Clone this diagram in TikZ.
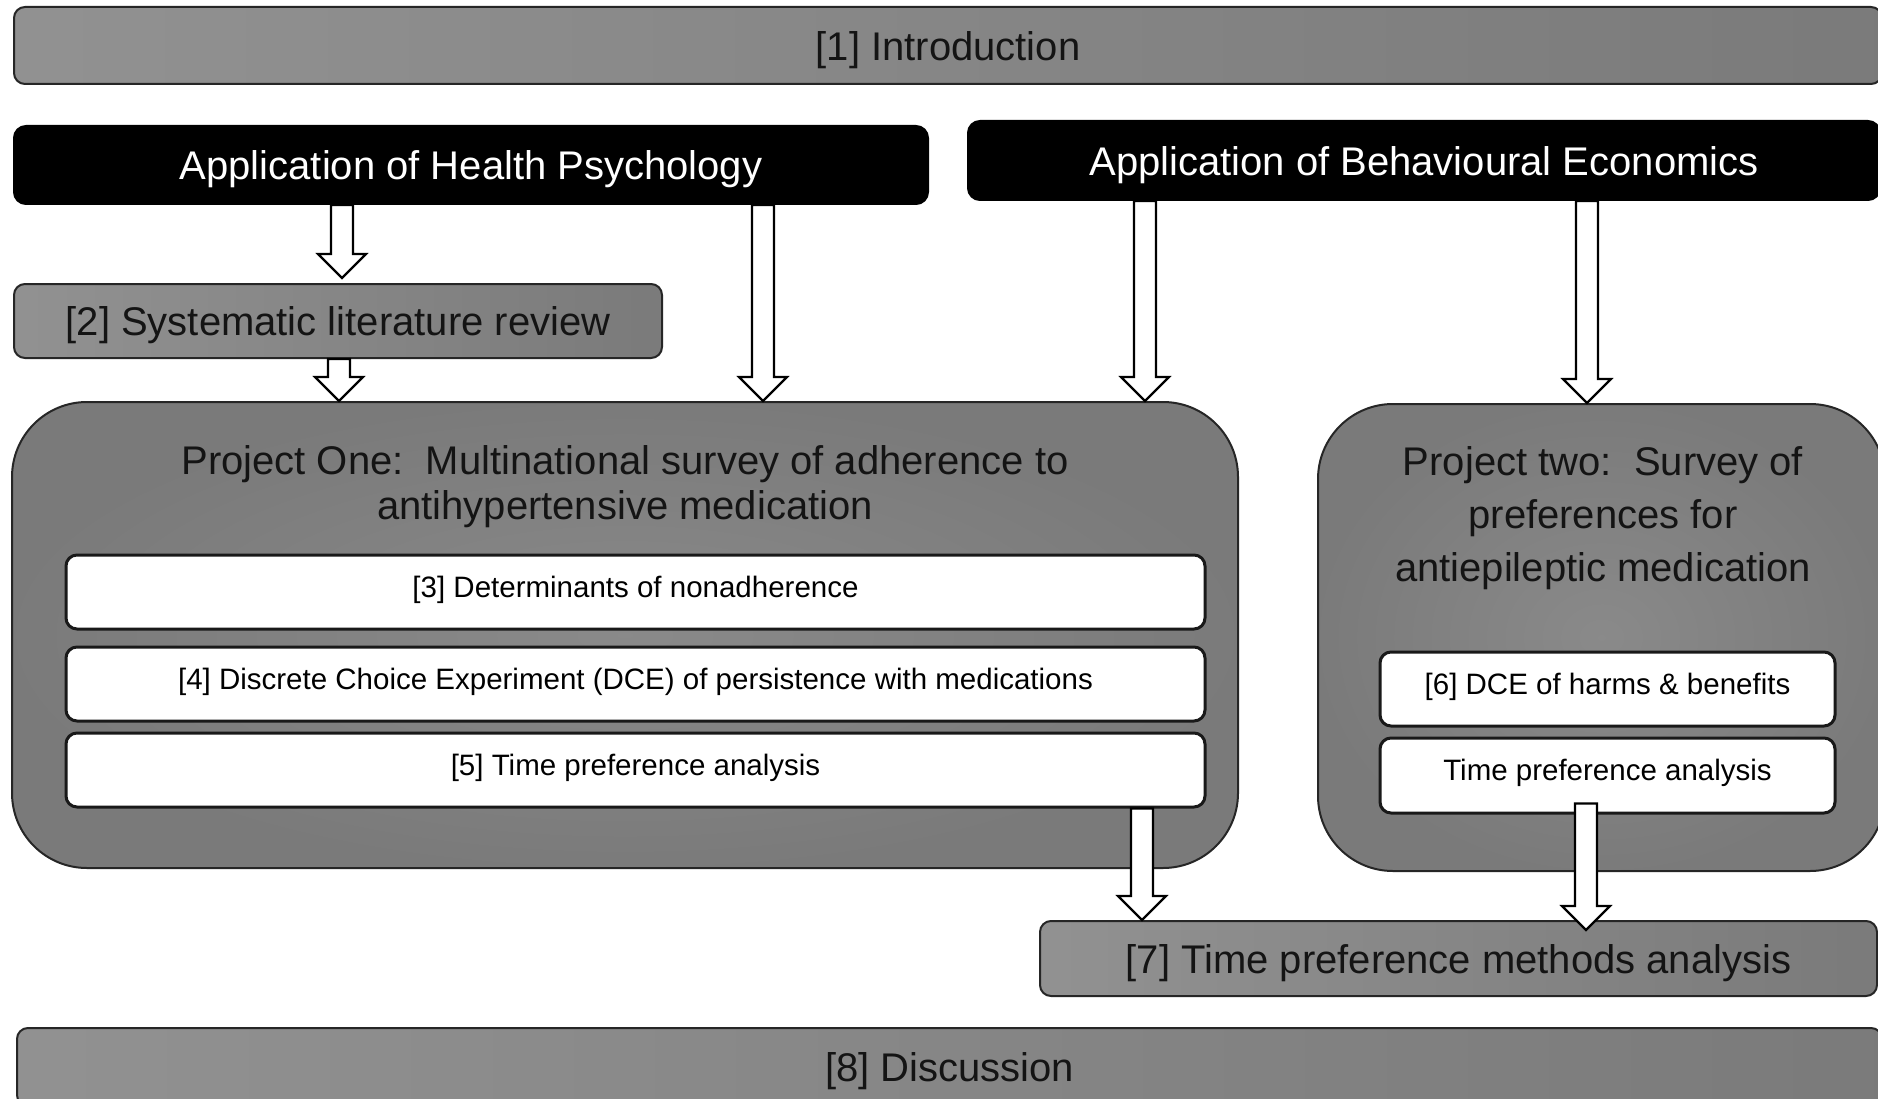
\documentclass[tikz,border=0pt]{standalone}
\usepackage{fontspec}
\setmainfont{Liberation Sans}
\usetikzlibrary{calc}
\begin{document}
\begin{tikzpicture}[x=1pt,y=-1pt,
  base/.style={draw=black!85, line width=2pt, inner sep=0pt, align=center},
  bigtext/.style={font=\fontsize{40}{45}\selectfont},
  onelinebig/.style={bigtext, text height=38pt, text depth=8.4pt},
  graybar/.style={base, onelinebig, rounded corners=11pt, left color=black!43, right color=black!52, text=black!92},
  blackbar/.style={base, onelinebig, draw=black, fill=black, rounded corners=12pt, text=white},
  project/.style={base, rounded corners=75pt, inner color=black!46, outer color=black!52},
  itembox/.style={base, line width=3pt, draw=black!90, fill=white, rounded corners=11pt,
    font=\fontsize{29.5}{34}\selectfont, text height=16.5pt, text depth=6pt},
  title/.style={inner sep=0pt, align=center, text=black!92},
  barrow/.style={draw=black, line width=2.2pt, fill=white, line join=miter,
    to path={let \p1=(\tikztostart), \p2=(\tikztotarget) in
      (\x1-11pt,\y1) -- (\x1-11pt,\y2+24pt) -- (\x1-24pt,\y2+24pt) -- (\x1,\y2)
      -- (\x1+24pt,\y2+24pt) -- (\x1+11pt,\y2+24pt) -- (\x1+11pt,\y1) -- cycle}}
]
% page
\useasboundingbox (0,0) rectangle (1878,1099);
\clip (0,0) rectangle (1878,1099);
\fill[white] (0,0) rectangle (1878,1099);

% chapter bars and themes
\node[graybar, minimum width=1868pt, minimum height=77pt] (intro) at (948,45.5) {[1] Introduction};
\node[blackbar, minimum width=914pt, minimum height=78pt] (hp) at (471,165) {Application of Health Psychology};
\node[blackbar, minimum width=912pt, minimum height=79pt] (be) at (1424,160.5) {Application of Behavioural Economics};
\node[graybar, minimum width=648pt, minimum height=74pt] (slr) at (338,321) {[2] Systematic literature review};

% project one
\node[project, minimum width=1226pt, minimum height=466pt] (p1) at (625,635) {};
\node[title, bigtext] (p1t) at (625,486.5) {Project One:\ \ Multinational survey of adherence to\\antihypertensive medication};
\node[itembox, minimum width=1139pt, minimum height=74pt] (det) at (635.5,592) {[3] Determinants of nonadherence};
\node[itembox, minimum width=1139pt, minimum height=74pt] (dce) at (635.5,684) {[4] Discrete Choice Experiment (DCE) of persistence with medications};
\node[itembox, minimum width=1139pt, minimum height=74pt] (tp1) at (635.5,770) {[5] Time preference analysis};

% project two
\node[project, minimum width=567pt, minimum height=467pt] (p2) at (1601.5,637.5) {};
\node[title, font=\fontsize{40}{53}\selectfont] (p2t) at (1603,518.5) {Project two:\ \ Survey of\\preferences for\\antiepileptic medication};
\node[itembox, minimum width=455pt, minimum height=74pt] (hb) at (1607.5,689) {[6] DCE of harms \& benefits};
\node[itembox, minimum width=455pt, minimum height=75pt] (tp2) at (1607.5,775.5) {Time preference analysis};

% synthesis and discussion
\node[graybar, minimum width=837pt, minimum height=75pt] (tpm) at (1458.5,958.5) {[7] Time preference methods analysis};
\node[graybar, minimum width=1865pt, minimum height=78pt] (disc) at (949.5,1067) {[8] Discussion};

% arrow columns
\coordinate (x1) at (342,0);
\coordinate (x2) at (339,0);
\coordinate (x3) at (763,0);
\coordinate (x4) at (1145,0);
\coordinate (x5) at (1587,0);
\coordinate (x6) at (1142,0);
\coordinate (x7) at (1586,0);

% block arrows
\draw[barrow] (hp.south -| x1) to ($(slr.north -| x1)+(0,-5)$);
\draw[barrow] (slr.south -| x2) to (p1.north -| x2);
\draw[barrow] (hp.south -| x3) to (p1.north -| x3);
\draw[barrow] (be.south -| x4) to (p1.north -| x4);
\draw[barrow] (be.south -| x5) to (p2.north -| x5);
\draw[barrow] (tp1.south -| x6) to (tpm.north -| x6);
\draw[barrow] ($(tp2.south -| x7)+(0,-11)$) to ($(tpm.north -| x7)+(0,10)$);
\end{tikzpicture}
\end{document}
